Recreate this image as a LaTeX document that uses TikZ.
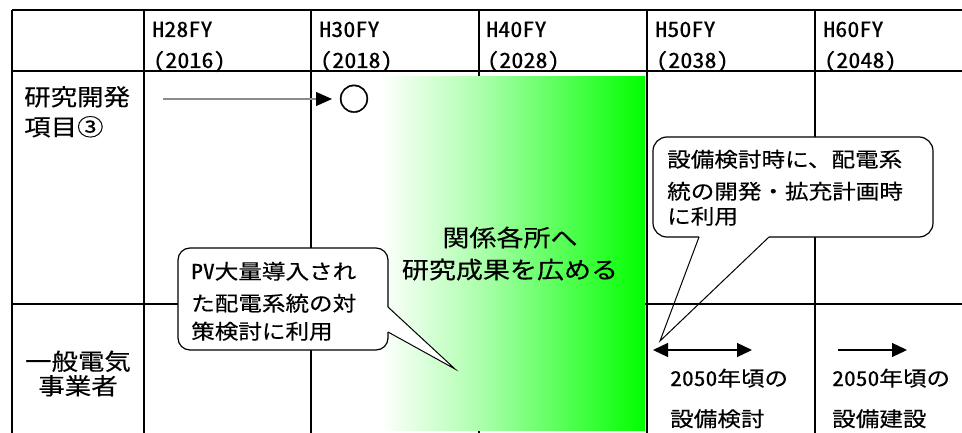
\documentclass[tikz,border=0pt]{standalone}
\usepackage{fontspec}
\setmainfont{Noto Sans CJK JP}[FakeStretch=1.15,FakeBold=0.3]
\newfontfamily\hw{Noto Sans CJK JP}[FakeStretch=1.15,FakeBold=0.3,RawFeature=+hwid]
\newfontfamily\circfont{Noto Sans CJK JP}[FakeBold=1.2]
\usetikzlibrary{arrows.meta}
\definecolor{vgreen}{RGB}{0,255,0}
\definecolor{midg}{RGB}{172,255,172}
\definecolor{arrgray}{RGB}{140,140,140}
\pgfdeclarehorizontalshading{gshade}{100bp}{color(0bp)=(white); color(25bp)=(white); color(43.9bp)=(midg); color(75bp)=(vgreen); color(100bp)=(vgreen)}
\newcommand{\fsz}[1]{\fontsize{#1}{#1}\selectfont}
\begin{document}
\begin{tikzpicture}[x=1pt,y=-1pt,
  gridline/.style={line width=1.3pt,black},
  txt/.style={inner sep=0pt,anchor=base west},
  ctxt/.style={inner sep=0pt,anchor=base},
  hdr/.style={txt,font=\hw\fsz{21}},
  lab/.style={font=\fsz{23}},
  cal/.style={txt,font=\fsz{20.5}},
  bigtxt/.style={ctxt,font=\fsz{23.5}},
  calline/.style={line width=1.2pt,black,rounded corners=12pt},
  ptr/.style={line width=1pt,black,line join=miter},
  >={Triangle[length=15pt,width=14pt]},
]
\useasboundingbox (0,0) rectangle (962,433);
% ---------- table ----------
\draw[gridline] (12,10) -- (962,10);
\draw[gridline] (12,71) -- (962,71);
\draw[gridline] (12,304) -- (962,304);
\foreach \x in {12,144,311,479,647,815} \draw[gridline] (\x,10) -- (\x,433);
% ---------- gradient ----------
\shade[shading=gshade] (380,77) rectangle (645,430);
% ---------- callout 1 ----------
\fill[white,rounded corners=12pt] (178,248) rectangle (388,350);
\fill[white] (386,307) -- (455,369) -- (386,332) -- cycle;
\draw[calline] (388,307) -- (388,248) -- (178,248) -- (178,350) -- (388,350) -- (388,332);
\draw[ptr] (388,307) -- (455,369) -- (388,332);
% ---------- callout 2 ----------
\fill[white,rounded corners=14pt] (653,137) rectangle (933,237);
\draw[calline,rounded corners=14pt] (699,237) -- (653,237) -- (653,137) -- (933,137) -- (933,237) -- (769,237);
\draw[ptr] (699,237) -- (660,341) -- (769,237);
% ---------- header ----------
\node[hdr] (h1a) at (152,37) {H28FY};
\node[hdr] (h1b) at (153,68) {（2016）};
\node[hdr] (h2a) at (319,37) {H30FY};
\node[hdr] (h2b) at (320,68) {（2018）};
\node[hdr] (h3a) at (486,37) {H40FY};
\node[hdr] (h3b) at (487,68) {（2028）};
\node[hdr] (h4a) at (655,37) {H50FY};
\node[hdr] (h4b) at (656,68) {（2038）};
\node[hdr] (h5a) at (823,37) {H60FY};
\node[hdr] (h5b) at (824,68) {（2048）};
% ---------- row labels ----------
\node[txt,lab] (r1a) at (24,105.5) {研究開発};
\node[txt,lab] (r1b) at (24,135.5) {項目③};
\node[ctxt,lab] (r2a) at (78,370) {一般電気};
\node[ctxt,lab] (r2b) at (78,394.5) {事業者};
% ---------- row 1 arrow and circle ----------
\coordinate (a1s) at (163,99);
\coordinate (a1e) at (332,99);
\draw[arrgray,line width=1.2pt,-{Triangle[length=16pt,width=14pt,color=black,fill=black]}] (a1s) -- (a1e);
\node[ctxt,font=\circfont\fsz{31}] (circ) at (354,110.5) {○};
% ---------- big text ----------
\node[bigtxt] (g1) at (510,246.5) {関係各所へ};
\node[bigtxt] (g2) at (510,278.5) {研究成果を広める};
% ---------- callout texts ----------
\node[cal] (c1a) at (191,279) {{\hw PV}大量導入され};
\node[cal] (c1b) at (191,311) {た配電系統の対};
\node[cal] (c1c) at (191,339) {策検討に利用};
\node[cal] (c2a) at (667,167) {設備検討時に、配電系};
\node[cal] (c2b) at (667,199) {統の開発・拡充計画時};
\node[cal] (c2c) at (667,224) {に利用};
% ---------- row 2 arrows ----------
\coordinate (b1s) at (653,350);
\coordinate (b1e) at (752,350);
\draw[line width=1.3pt,<->] (b1s) -- (b1e);
\coordinate (b2s) at (838,350);
\coordinate (b2e) at (907,350);
\draw[line width=1.3pt,->] (b2s) -- (b2e);
% ---------- row 2 texts ----------
\node[cal] (d1a) at (670,386) {{\hw 2050}年頃の};
\node[cal] (d1b) at (670,426.5) {設備検討};
\node[cal] (d2a) at (832,386) {{\hw 2050}年頃の};
\node[cal] (d2b) at (832,426.5) {設備建設};
\end{tikzpicture}
\end{document}
